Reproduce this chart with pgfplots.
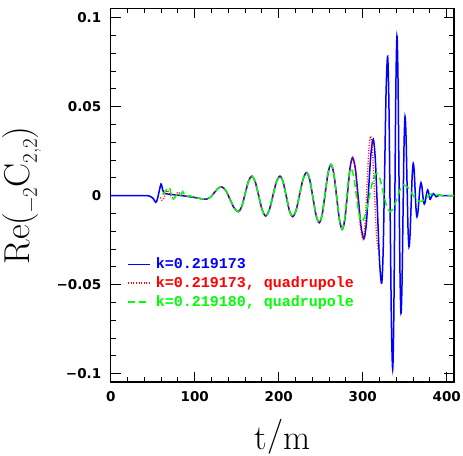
\documentclass[border=0pt]{standalone}
\usepackage{fontspec}
\usepackage{pgfplots}
\pgfplotsset{compat=1.18}
\newfontfamily\tickfont{DejaVu Sans}
\newfontfamily\legfont{Liberation Mono}
\definecolor{cblue}{rgb}{0,0,1}
\definecolor{cred}{rgb}{1,0,0}
\definecolor{cgreen}{rgb}{0,1,0}
\begin{document}
\begin{tikzpicture}
\begin{axis}[
  scale only axis, width=343.3pt, height=373.5pt,
  xmin=0, xmax=408.7, ymin=-0.1047, ymax=0.1052,
  axis line style={line width=1.2pt},
  tick style={line width=1pt, black},
  tick align=inside, major tick length=10pt, minor tick length=5pt,
  xtick={0,100,200,300,400}, xticklabels={0,100,200,300,400}, minor x tick num=4,
  ytick={-0.1,-0.05,0,0.05,0.1}, yticklabels={−0.1,−0.05,0,0.05,0.1}, minor y tick num=4,
  ticklabel style={font=\tickfont\bfseries\fontsize{13.5}{15}\selectfont},
  yticklabel style={xshift=-6pt},
  xticklabel style={yshift=-6pt},
  legend style={at={(0.048,0.335)}, anchor=north west, draw=none, fill=none,
    font=\legfont\bfseries\fontsize{15}{15}\selectfont, row sep=4.5pt, column sep=4pt, inner sep=0pt,
    nodes={inner sep=1pt}},
  legend cell align=left,
  legend image code/.code={\draw[#1] (0pt,0pt) -- (22pt,0pt);},
]
\coordinate (bl) at (rel axis cs:0,0);
\coordinate (tr) at (rel axis cs:1,1);
\coordinate (ylab) at (rel axis cs:0,0.5);
\coordinate (xlab) at (rel axis cs:0.5,0);
\addplot[cblue, line width=1.5pt, smooth] coordinates {
(0,0)(40,0)(46,-0.0002)(50,-0.0012)(53.6,-0.0037)(55.5,-0.002)(57.5,0.002)(59.9,0.0066)(61.5,0.004)(63,0.0018)(65,0.0012)(70,0.0008)(80,0.0003)(90,-0.0003)(100,-0.001)(108,-0.0017)
(114,-0.002)(118.5,-0.00097)(123,0.0015)(127.5,0.00397)
(132,0.005)(137,0.00295)(142,-0.002)(147,-0.00695)
(152,-0.009)(156,-0.00607)(160,0.001)(164,0.00807)
(168,0.011)(172.1,0.00772)(176.25,-0.0002)(180.4,-0.00812)
(184.5,-0.0114)(188.75,-0.00812)(193,-0.0002)(197.25,0.00772)
(201.5,0.011)(205.3,0.00766)(209.05,-0.0004)(212.8,-0.00846)
(216.6,-0.0118)(220.75,-0.00817)(224.9,0.0006)(229.05,0.00937)
(233.2,0.013)(237,0.00887)(240.75,-0.0011)(244.5,-0.01107)
(248.3,-0.0152)(251.8,-0.0104)(255.3,0.0012)(258.8,0.0128)
(262.3,0.0176)(265.65,0.01225)(269,-0.00065)(272.35,-0.01355)
(275.7,-0.0189)(278.8,-0.013)(281.85,0.00125)(284.9,0.0155)
(288,0.0214)(291.4,0.01473)(294.75,-0.00135)(298.1,-0.01743)
(301.5,-0.0241)(304.3,-0.01593)(307.05,0.0038)(309.8,0.02353)
(312.6,0.0317)(315.1,0.01985)(317.6,-0.00875)(320.1,-0.03735)
(322.6,-0.0492)(324.4,-0.03055)(326.15,0.01445)(327.9,0.05945)
(329.7,0.0781)(331.2,0.05237)(332.7,-0.0097)(334.2,-0.07177)
(335.7,-0.0975)(336.98,-0.07008)(338.25,-0.0039)(339.53,0.06228)
(340.8,0.0897)(342,0.06688)(343.2,0.0118)(344.4,-0.04328)
(345.6,-0.0661)(346.8,-0.04991)(348,-0.01085)(349.2,0.02821)
(350.4,0.0444)(351.58,0.03369)(352.75,0.00785)(353.93,-0.01799)
(355.1,-0.0287)(356.38,-0.02183)(357.65,-0.00525)(358.93,0.01133)
(360.2,0.0182)(361.3,0.0138)(362.4,0.0032)(363.5,-0.0074)
(364.6,-0.0118)(365.8,-0.009)(367,-0.00225)(368.2,0.0045)
(369.4,0.0073)(370.38,0.00554)(371.35,0.0013)(372.33,-0.00294)
(373.3,-0.0047)(374.33,-0.00354)(375.35,-0.00075)(376.38,0.00204)
(377.4,0.0032)(378.2,0.00244)(378.95,0.0006)(379.7,-0.00124)
(380.5,-0.002)(384,0.0012)(387.5,-0.0006)(391,0.0003)(395,0)(409,0)
};
\addlegendentry{\textcolor{cblue}{k=0.219173}}
\addplot[cred, line width=1.3pt, dash pattern=on 1pt off 1.6pt, smooth] coordinates {
(59,-0.001)(61,-0.0025)(63,-0.002)(65,0.001)(67,0.003)(69,0.002)(71,0.0005)(74,-0.0015)(77,0)(80,0.002)(83,0.001)(86,0.0015)(89,0)(92,-0.0005)(96,-0.0005)(100,-0.001)(108,-0.0017)
(114,-0.002)(118.5,-0.00097)(123,0.0015)(127.5,0.00397)
(132,0.005)(137,0.00295)(142,-0.002)(147,-0.00695)
(152,-0.009)(156,-0.00607)(160,0.001)(164,0.00807)
(168,0.011)(172.1,0.00772)(176.25,-0.0002)(180.4,-0.00812)
(184.5,-0.0114)(188.75,-0.00812)(193,-0.0002)(197.25,0.00772)
(201.5,0.011)(205.3,0.00766)(209.05,-0.0004)(212.8,-0.00846)
(216.6,-0.0118)(220.75,-0.00817)(224.9,0.0006)(229.05,0.00937)
(233.2,0.013)(237,0.00887)(240.75,-0.0011)(244.5,-0.01107)
(248.3,-0.0152)(251.8,-0.0104)(255.3,0.0012)(258.8,0.0128)
(262.3,0.0176)(265.65,0.01225)(269,-0.00065)(272.35,-0.01355)
(275.7,-0.0189)(278.8,-0.013)(281.85,0.00125)(284.9,0.0155)
(288,0.0214)(291.1,0.01468)(294.25,-0.00155)(297.4,-0.01778)
(300.5,-0.0245)(302.75,-0.016)(305,0.0045)(307.25,0.025)
(309.5,0.0335)(311.8,0.0241)(314.05,0.0015)(316.3,-0.0211)(318.6,-0.0305)
};
\addlegendentry{\textcolor{cred}{k=0.219173, quadrupole}}
\addplot[cgreen, line width=1.5pt, dash pattern=on 7pt off 4pt, smooth] coordinates {
(62,0.0005)(64,0.002)(66.5,0.0035)(69.8,0.0047)(72,0.001)(74.5,-0.002)(77,-0.0005)(80,0.0012)(83,0.0003)(85.7,0.0023)(88,0.0002)(90,-0.0006)(94,0)(100,-0.001)(108,-0.0017)
(114,-0.002)(118.5,-0.00097)(123,0.0015)(127.5,0.00397)
(132,0.005)(137,0.00295)(142,-0.002)(147,-0.00695)
(152,-0.009)(156,-0.00607)(160,0.001)(164,0.00807)
(168,0.011)(172.1,0.00772)(176.25,-0.0002)(180.4,-0.00812)
(184.5,-0.0114)(188.75,-0.00812)(193,-0.0002)(197.25,0.00772)
(201.5,0.011)(205.3,0.00766)(209.05,-0.0004)(212.8,-0.00846)
(216.6,-0.0118)(220.75,-0.00817)(224.9,0.0006)(229.05,0.00937)
(233.2,0.013)(237,0.00887)(240.75,-0.0011)(244.5,-0.01107)
(248.3,-0.0152)(251.8,-0.0104)(255.3,0.0012)(258.8,0.0128)
(262.3,0.0176)(265.65,0.01225)(269,-0.00065)(272.35,-0.01355)
(275.7,-0.0189)(278.3,-0.01388)(280.85,-0.00175)(283.4,0.01038)
(286,0.0154)(289.2,0.011)(292.4,0.0004)(295.6,-0.0102)
(298.8,-0.0146)(303.25,-0.0106)(307.7,-0.001)(312.15,0.0086)
(316.6,0.0126)(320.6,0.0094)(324.55,0.0018)(328.5,-0.0058)
(332.5,-0.009)(336.6,-0.0068)(340.75,-0.0015)(344.9,0.0038)
(349,0.006)(353.75,0.00462)(358.5,0.0013)(363.25,-0.00202)
(368,-0.0034)(372,-0.00271)(376,-0.00105)(380,0.00061)
(384,0.0013)(392,0.0002)(400,0)(409,0)
};
\addlegendentry{\textcolor{cgreen}{k=0.219180, quadrupole}}
\end{axis}
\node[rotate=90, anchor=base, inner sep=0pt] at ([xshift=-80.7pt]ylab)
  {\fontsize{36}{40}\selectfont Re(\raisebox{-7pt}{\fontsize{21}{21}\selectfont −2}C\raisebox{-7pt}{\fontsize{21}{21}\selectfont 2,2})};
\node[anchor=base, inner sep=0pt] at ([yshift=-67pt]xlab)
  {\fontsize{35}{40}\selectfont t\raisebox{3.5pt}{/}m};
\pgfresetboundingbox
\path ([xshift=-110.7pt,yshift=-73pt]bl) rectangle ([xshift=9pt,yshift=8.5pt]tr);
\end{tikzpicture}
\end{document}
